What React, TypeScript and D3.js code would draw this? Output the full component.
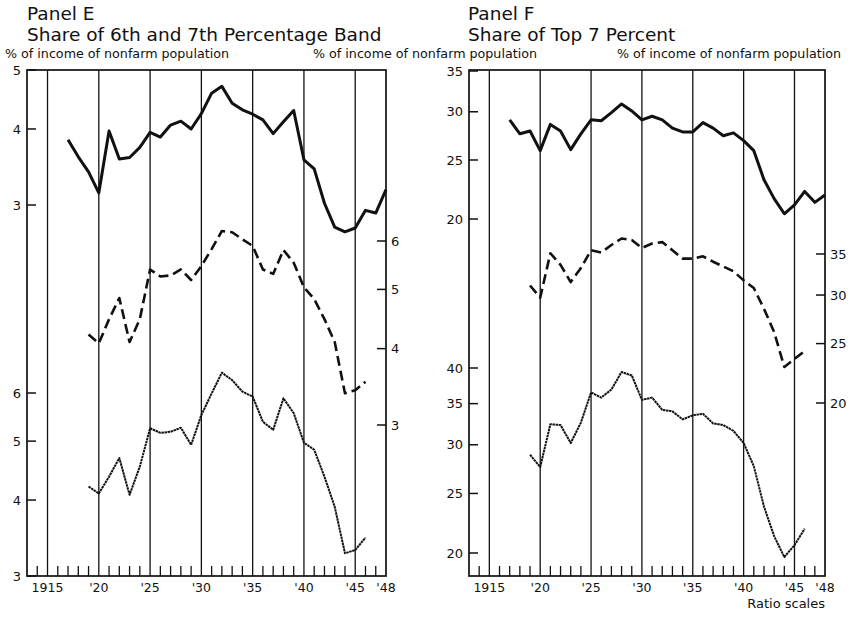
import React, { useEffect, useRef } from 'react';
import * as d3 from 'd3';

// Panel E: share of 6th and 7th percentage band (solid = both, dashed / dotted = each band)
const eTopStart = 1917;
const eTop = [3.84, 3.60, 3.40, 3.14, 3.97, 3.57, 3.59, 3.73, 3.95, 3.88, 4.06, 4.12, 4.00, 4.24, 4.58, 4.70,
  4.41, 4.30, 4.23, 4.14, 3.93, 4.11, 4.29, 3.56, 3.44, 3.02, 2.76, 2.71, 2.75, 2.94, 2.91, 3.18];
const eMidStart = 1919;
const eMid = [4.22, 4.08, 4.47, 4.84, 4.10, 4.47, 5.39, 5.25, 5.27, 5.39, 5.18, 5.46, 5.82, 6.23,
  6.20, 6.04, 5.89, 5.39, 5.30, 5.80, 5.53, 5.04, 4.82, 4.47, 4.10, 3.38, 3.42, 3.53];
const eBotStart = 1919;
const eBot = [4.21, 4.10, 4.37, 4.69, 4.08, 4.54, 5.25, 5.16, 5.18, 5.26, 4.93, 5.52, 5.99, 6.48,
  6.30, 6.03, 5.92, 5.38, 5.22, 5.88, 5.56, 4.97, 4.84, 4.37, 3.90, 3.27, 3.31, 3.47];

// Panel F: share of top 7 percent
const fTopStart = 1917;
const fTop = [29.1, 27.6, 27.9, 25.9, 28.6, 27.9, 26.0, 27.6, 29.1, 29.0, 29.9, 30.9, 30.1, 29.1, 29.5, 29.1,
  28.2, 27.8, 27.8, 28.8, 28.2, 27.4, 27.7, 26.9, 25.9, 23.2, 21.6, 20.4, 21.1, 22.2, 21.3, 21.9];
const fMidStart = 1919;
const fMid = [31.1, 29.7, 35.1, 33.6, 31.5, 33.2, 35.5, 35.2, 36.2, 37.1, 36.9, 35.8, 36.4, 36.6,
  35.5, 34.4, 34.4, 34.7, 34.0, 33.4, 32.8, 31.7, 30.8, 28.5, 26.1, 22.9, 23.6, 24.3];
const fBotStart = 1919;
const fBot = [28.9, 27.6, 32.4, 32.3, 30.2, 32.6, 36.5, 35.8, 36.9, 39.4, 38.9, 35.5, 35.8, 34.2,
  34.0, 33.0, 33.5, 33.7, 32.5, 32.3, 31.6, 30.2, 27.7, 23.8, 21.3, 19.7, 20.6, 21.9];

const gridYears = [1915, 1920, 1925, 1930, 1935, 1940, 1945];
const yearLabelYears = [1915, 1920, 1925, 1930, 1935, 1940, 1945, 1948];
const yearLabels = ['1915', "'20", "'25", "'30", "'35", "'40", "'45", "'48"];

const eTopTicks = [3, 4, 5];
const eMidTicks = [3, 4, 5, 6];
const eBotTicks = [3, 4, 5, 6];
const fTopTicks = [20, 25, 30, 35];
const fMidTicks = [20, 25, 30, 35];
const fBotTicks = [20, 25, 30, 35, 40];

const FONT = 'DejaVu Sans, sans-serif';
const INK = '#111';

type Series = {
  values: number[];
  start: number;
  domain: [number, number];
  range: [number, number];
  ticks: number[];
  side: 'left' | 'right';
  kind: 'solid' | 'dashed' | 'dotted';
};

type Panel = { left: number; right: number; top: number; bottom: number; series: Series[] };

function drawPanel(svg: d3.Selection<SVGSVGElement, unknown, null, undefined>, p: Panel) {
  const x = d3.scaleLinear().domain([1913, 1948]).range([p.left, p.right]);
  const g = svg.append('g');

  // minor year ticks along the bottom
  g.selectAll(null)
    .data(d3.range(1914, 1948).filter(y => y % 5 !== 0))
    .enter().append('line')
    .attr('x1', d => x(d)).attr('x2', d => x(d))
    .attr('y1', p.bottom).attr('y2', p.bottom - 10)
    .attr('stroke', INK).attr('stroke-width', 1.3);

  // vertical lines every 5 years
  g.selectAll(null)
    .data(gridYears)
    .enter().append('line')
    .attr('x1', d => x(d)).attr('x2', d => x(d))
    .attr('y1', p.top).attr('y2', p.bottom)
    .attr('stroke', INK).attr('stroke-width', 1.3);

  g.append('rect')
    .attr('x', p.left).attr('y', p.top)
    .attr('width', p.right - p.left).attr('height', p.bottom - p.top)
    .attr('fill', 'none').attr('stroke', INK).attr('stroke-width', 1.7);

  g.selectAll(null)
    .data(yearLabelYears)
    .enter().append('text')
    .attr('x', d => x(d)).attr('y', 592)
    .attr('text-anchor', 'middle')
    .attr('font-family', FONT).attr('font-size', 12.5)
    .attr('fill', INK)
    .text((d, i) => yearLabels[i]);

  p.series.forEach(s => {
    const y = d3.scaleLog().domain(s.domain).range(s.range);
    const line = d3.line<number>()
      .x((d, i) => x(s.start + i))
      .y(d => y(d));

    const path = g.append('path')
      .attr('d', line(s.values))
      .attr('fill', 'none')
      .attr('stroke', INK)
      .attr('stroke-linejoin', 'round');
    if (s.kind === 'solid') path.attr('stroke-width', 3);
    if (s.kind === 'dashed') path.attr('stroke-width', 2.6).attr('stroke-dasharray', '10 5');
    if (s.kind === 'dotted') path.attr('stroke-width', 2).attr('stroke-dasharray', '2.5 0.6');

    const x0 = s.side === 'left' ? p.left : p.right;
    const dir = s.side === 'left' ? 1 : -1;
    g.selectAll(null)
      .data(s.ticks)
      .enter().append('line')
      .attr('x1', x0).attr('x2', x0 + dir * 9)
      .attr('y1', d => y(d)).attr('y2', d => y(d))
      .attr('stroke', INK).attr('stroke-width', 1.5);

    g.selectAll(null)
      .data(s.ticks)
      .enter().append('text')
      .attr('x', s.side === 'left' ? p.left - 6 : p.right + 5)
      .attr('y', d => y(d))
      .attr('dy', '0.36em')
      .attr('text-anchor', s.side === 'left' ? 'end' : 'start')
      .attr('font-family', FONT).attr('font-size', 13)
      .attr('fill', INK)
      .text(d => String(d));
  });
}

export default function App() {
  const ref = useRef<SVGSVGElement>(null);

  useEffect(() => {
    const svg = d3.select(ref.current as SVGSVGElement);
    svg.selectAll('*').remove();

    svg.append('rect').attr('width', 850).attr('height', 618).attr('fill', '#fff');

    const titles = [
      { x: 27, y: 20, t: 'Panel E' },
      { x: 27, y: 41, t: 'Share of 6th and 7th Percentage Band' },
      { x: 468, y: 20, t: 'Panel F' },
      { x: 468, y: 41, t: 'Share of Top 7 Percent' },
    ];
    svg.selectAll(null).data(titles).enter().append('text')
      .attr('x', d => d.x).attr('y', d => d.y)
      .attr('font-family', FONT).attr('font-size', 18.5).attr('fill', INK)
      .text(d => d.t);

    svg.selectAll(null).data([5, 313, 617]).enter().append('text')
      .attr('x', d => d).attr('y', 58)
      .attr('font-family', FONT).attr('font-size', 12.5).attr('fill', INK)
      .attr('textLength', 224).attr('lengthAdjust', 'spacingAndGlyphs')
      .text('% of income of nonfarm population');

    svg.append('text')
      .attr('x', 825).attr('y', 608)
      .attr('text-anchor', 'end')
      .attr('font-family', FONT).attr('font-size', 13).attr('fill', INK)
      .text('Ratio scales');

    drawPanel(svg, {
      left: 27, right: 386, top: 70, bottom: 576,
      series: [
        { values: eTop, start: eTopStart, domain: [3, 5], range: [205, 70], ticks: eTopTicks, side: 'left', kind: 'solid' },
        { values: eMid, start: eMidStart, domain: [3, 6], range: [425, 241], ticks: eMidTicks, side: 'right', kind: 'dashed' },
        { values: eBot, start: eBotStart, domain: [3, 6], range: [576, 393], ticks: eBotTicks, side: 'left', kind: 'dotted' },
      ],
    });

    drawPanel(svg, {
      left: 469, right: 825, top: 70, bottom: 576,
      series: [
        { values: fTop, start: fTopStart, domain: [20, 35], range: [219, 71], ticks: fTopTicks, side: 'left', kind: 'solid' },
        { values: fMid, start: fMidStart, domain: [20, 35], range: [403, 254], ticks: fMidTicks, side: 'right', kind: 'dashed' },
        { values: fBot, start: fBotStart, domain: [20, 40], range: [553, 368], ticks: fBotTicks, side: 'left', kind: 'dotted' },
      ],
    });
  }, []);

  return (
    <svg ref={ref} width={850} height={618}
      style={{ position: 'absolute', left: 0, top: 0, display: 'block' }} />
  );
}
